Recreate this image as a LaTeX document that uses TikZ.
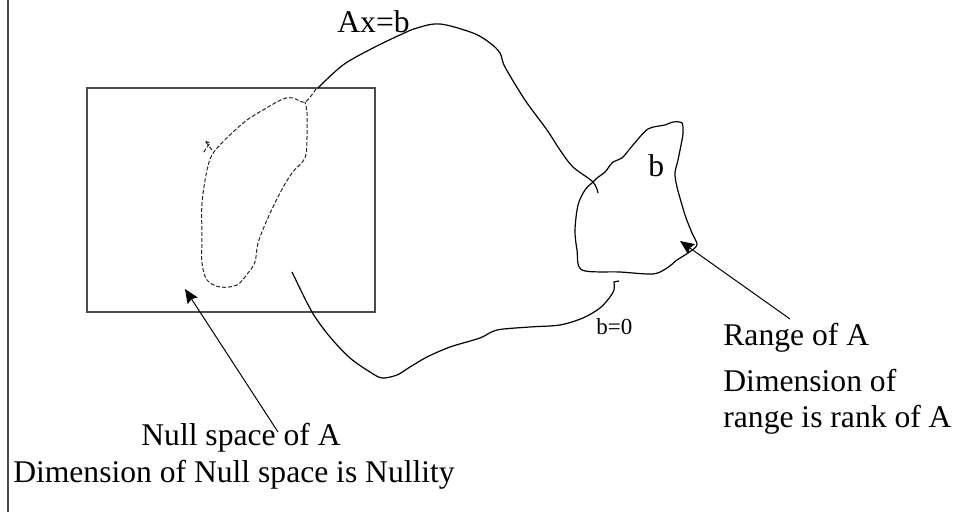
\documentclass[tikz,border=0pt]{standalone}
\usepackage{fontspec}
\setmainfont{Liberation Serif}
\usetikzlibrary{arrows.meta}

\begin{document}
\begin{tikzpicture}[
        x=0.5pt, y=-0.5pt,
        txt/.style={font=\fontsize{15.8}{18}\selectfont, inner sep=0pt},
        small/.style={font=\fontsize{11.5}{13}\selectfont, inner sep=0pt},
        curve/.style={line width=0.6pt, black},
        nullset/.style={line width=0.5pt, black!85, dash pattern=on 2pt off 1pt},
        edge/.style={line width=0.75pt, black!70},
        arrow/.style={-{Stealth[length=7pt, width=6pt, inset=1pt]}, line width=0.5pt}
    ]
    \useasboundingbox (0,0) rectangle (959,512);

    % Frame edge and domain
    \draw[edge] (8,0) -- (8,512);
    \draw[edge] (87,88) rectangle (375,312);

    % Null space (dashed)
    \draw[nullset] plot[smooth, tension=0.55] coordinates {
        (316,89) (305,102) (293,98) (283,99) (263,110) (247,120) (232,133)
        (220,145) (212,155) (207,170) (202,203) (202,237) (202,263) (207,280)
        (220,287) (237,285) (248,273) (255,262) (258,243) (267,220) (280,193)
        (292,173) (305,158) (307,137) (307,113) (305,102)};
    \draw[nullset] (212,150) -- (205,141) -- (210,143) -- (203,153);

    % Range of A
    \draw[curve] plot[smooth cycle, tension=0.5] coordinates {
        (593,182) (585,190) (578,205) (575,230) (577,250) (582,270) (620,272)
        (653,274) (667,268) (677,260) (688,253) (697,245) (692,233) (685,215)
        (677,187) (675,173) (678,160) (682,140) (683,133) (682,123) (673,122)
        (665,125) (648,129) (633,145) (622,158) (613,162) (605,172) (597,178)};

    % Ax=b curves
    \draw[curve] plot[smooth, tension=0.55] coordinates {
        (318,88) (343,65) (373,48) (400,35) (417,28) (440,24) (473,33)
        (490,43) (500,53) (505,67) (525,100) (547,130) (560,150) (573,167)
        (593,182) (598,193)};
    \draw[curve] plot[smooth, tension=0.5] coordinates {
        (292,272) (312,312) (330,337) (350,358) (370,372) (382,378) (397,375)
        (410,367) (427,357) (450,347) (480,338) (497,330) (530,327) (560,325)
        (583,318) (600,308) (610,297) (614,290) (614,282)} -- (619,281);

    % Labels
    \node[txt, anchor=base west] (axb) at (337,33) {Ax=b};
    \node[txt, anchor=base west] (bval) at (648,177) {b};
    \node[small, anchor=base west] (bzero) at (596,335) {b=0};
    \node[txt, anchor=base west] (rangelbl) at (723,346) {Range of A};
    \node[txt, anchor=base west] (rangedim) at (723,392) {Dimension of};
    \node[txt, anchor=base west] (rangerank) at (723,428) {range is rank of A};
    \node[txt, anchor=base] (nulllbl) at (241,446) {Null space of A};
    \node[txt, anchor=base] (nulldim) at (234,483) {Dimension of Null space is Nullity};

    % Arrows
    \coordinate (rangetail) at (790,319);
    \coordinate (rangehead) at (680,241);
    \coordinate (nulltail) at (278,432);
    \coordinate (nullhead) at (185,289);
    \draw[arrow] (rangetail) -- (rangehead);
    \draw[arrow] (nulltail) -- (nullhead);
\end{tikzpicture}
\end{document}
